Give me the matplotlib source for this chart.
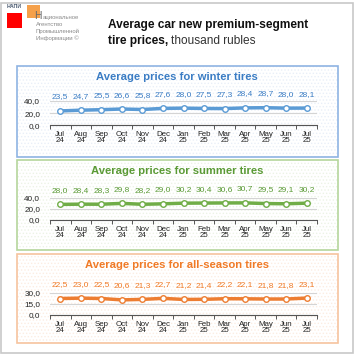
import matplotlib
matplotlib.use("Agg")
import matplotlib.pyplot as plt
from matplotlib.patches import Rectangle
from matplotlib.ticker import FuncFormatter

months = ["Jul\n24", "Aug\n24", "Sep\n24", "Oct\n24", "Nov\n24", "Dec\n24", "Jan\n25",
          "Feb\n25", "Mar\n25", "Apr\n25", "May\n25", "Jun\n25", "Jul\n25"]

winter = [23.5, 24.7, 25.5, 26.6, 25.8, 27.6, 28.0, 27.5, 27.3, 28.4, 28.7, 28.0, 28.1]
summer = [28.0, 28.4, 28.3, 29.8, 28.2, 29.0, 30.2, 30.4, 30.6, 30.7, 29.5, 29.1, 30.2]
allseason = [22.5, 23.0, 22.5, 20.6, 21.3, 22.7, 21.2, 21.4, 22.2, 22.1, 21.8, 21.8, 23.1]

winter_ticks = [0, 20, 40]
summer_ticks = [0, 20, 40]
allseason_ticks = [0, 15, 30]

plt.rcParams["font.family"] = ["Liberation Sans", "DejaVu Sans"]
plt.rcParams["hatch.linewidth"] = 0.6

W, H = 355, 356
fig = plt.figure(figsize=(W / 100, H / 100), dpi=100)


def fx(x):
    return x / W


def fy(y):
    return 1 - y / H


# outer frame
fig.add_artist(Rectangle((fx(1.5), fy(353)), fx(351.5), (352 - 1.5) / H, transform=fig.transFigure,
                         fill=False, edgecolor="#c8c8c8", linewidth=1.2, zorder=-3))

# logo
fig.add_artist(Rectangle((fx(27), fy(18)), fx(13), 13 / H, transform=fig.transFigure,
                         facecolor="#f5a04a", edgecolor="none"))
fig.add_artist(Rectangle((fx(7), fy(28)), fx(15), 15 / H, transform=fig.transFigure,
                         facecolor="#ff0000", edgecolor="none"))
fig.text(fx(7), fy(7), "НАПИ", fontsize=3.8, color="#4a5a70", va="center", weight="bold")
big_n = fig.text(fx(34.5), fy(16), "Н", fontsize=7.5, color="#6a6a6a", va="center")
fig.canvas.draw()
nb = big_n.get_window_extent()
fig.text(nb.x1 / W + fx(0.5), fy(17), "ациональное", fontsize=4.3, color="#8a8a8a", va="center")
fig.text(fx(36), fy(24), "Агентство", fontsize=4.3, color="#8a8a8a", va="center")
fig.text(fx(36), fy(31), "Промышленной", fontsize=4.3, color="#8a8a8a", va="center")
fig.text(fx(36), fy(38), "Информации ©", fontsize=4.3, color="#8a8a8a", va="center")

# main title
fig.text(fx(108), fy(25), "Average car new premium-segment", fontsize=8.6, weight="bold",
         color="#111111", va="center")
t = fig.text(fx(108), fy(41), "tire prices,", fontsize=8.6, weight="bold", color="#111111", va="center")
fig.canvas.draw()
bb = t.get_window_extent()
fig.text(bb.x1 / W + fx(2.5), fy(41), "thousand rubles", fontsize=8.6, color="#333333", va="center")

panels = [
    ("Average prices for winter tires", winter, winter_ticks,
     "#5b9bd5", "#3a7cc4", "#e9eff8", "#8fb4e3", 66, 157, 77, 100.7, 125.5),
    ("Average prices for summer tires", summer, summer_ticks,
     "#70ad47", "#5a9a35", "#ecf3e6", "#b5d69c", 160, 250, 171, 197.7, 220),
    ("Average prices for all-season tires", allseason, allseason_ticks,
     "#ed7d31", "#f07a26", "#fcede2", "#f6c39e", 254, 343, 265, 293, 315),
]

fmt = FuncFormatter(lambda v, p: f"{v:.1f}".replace(".", ","))

for title, vals, ticks, line_c, text_c, dot_c, frame_c, top, bottom, title_y, ax_top, ax_bot in panels:
    fig.add_artist(Rectangle((fx(17), fy(bottom)), fx(321), (bottom - top) / H, transform=fig.transFigure,
                             facecolor="white", edgecolor=dot_c, hatch=".....", linewidth=0, zorder=-2))
    fig.add_artist(Rectangle((fx(17), fy(bottom)), fx(321), (bottom - top) / H, transform=fig.transFigure,
                             fill=False, edgecolor=frame_c, linewidth=1.2, zorder=-1))
    fig.text(fx(177), fy(title_y), title, fontsize=8.1, weight="bold", color=text_c,
             ha="center", va="center")

    ax = fig.add_axes([fx(50), fy(ax_bot), fx(267), (ax_bot - ax_top) / H])
    ax.patch.set_alpha(0)
    x = list(range(len(vals)))
    ax.plot(x, vals, color=line_c, linewidth=2.5, marker="o", markersize=4.0,
            markerfacecolor="white", markeredgecolor=line_c, markeredgewidth=1.0,
            clip_on=False, zorder=3)
    for i, v in enumerate(vals):
        ax.annotate(f"{v:.1f}".replace(".", ","), (i, v), xytext=(0, 10), textcoords="offset points",
                    ha="center", va="center", fontsize=6.0, color=text_c, annotation_clip=False)

    ax.set_xlim(-0.5, len(vals) - 0.5)
    ax.set_ylim(ticks[0], ticks[-1])
    ax.set_yticks(ticks)
    ax.yaxis.set_major_formatter(fmt)
    ax.set_xticks(x)
    ax.set_xticklabels(months, linespacing=0.85)
    ax.set_xticks([i - 0.5 for i in range(len(vals) + 1)], minor=True)
    ax.tick_params(axis="x", which="major", length=0, pad=4, labelsize=5.7, labelcolor="#222222")
    ax.tick_params(axis="x", which="minor", length=3, width=0.7, color="#555555", direction="out")
    ax.tick_params(axis="y", length=0, pad=7, labelsize=5.9, labelcolor="#222222")
    ax.grid(axis="y", color="#d4d4d4", linewidth=0.8)
    for s in ["top", "right", "left"]:
        ax.spines[s].set_visible(False)
    ax.spines["bottom"].set_color("#555555")
    ax.spines["bottom"].set_linewidth(0.8)
    ax.set_axisbelow(True)

fig.savefig("out.png", dpi=100)
